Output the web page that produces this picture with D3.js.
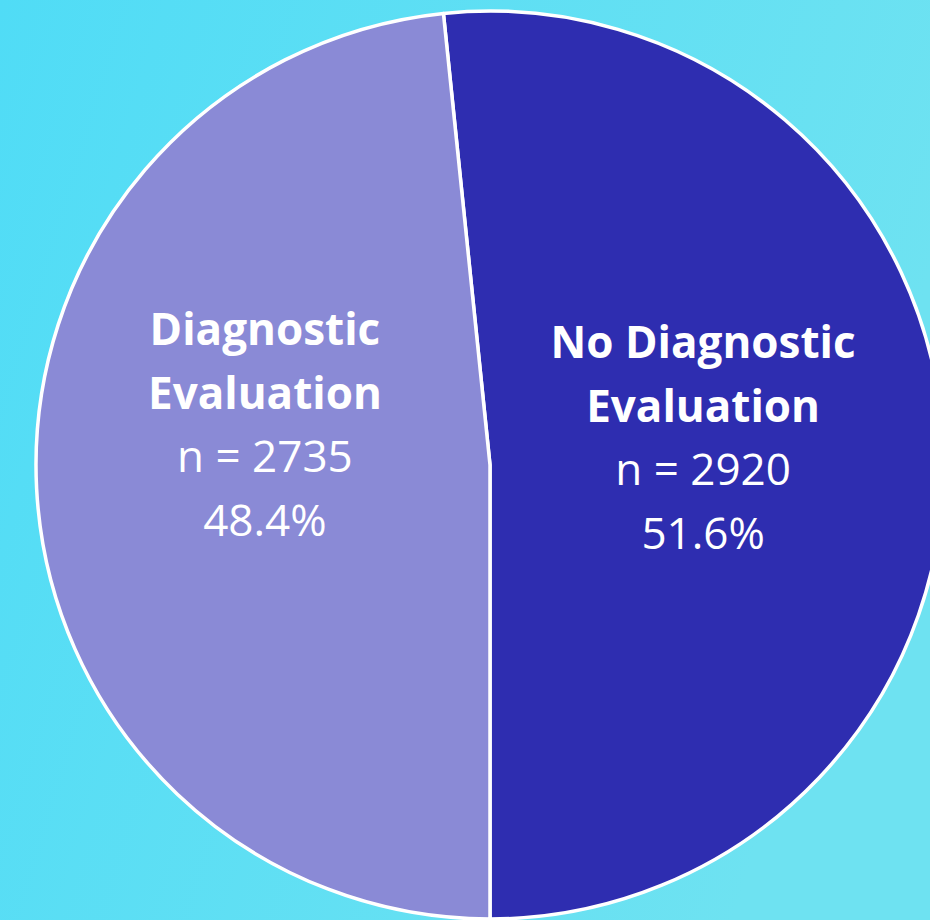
<!DOCTYPE html>
<html>
<head>
<meta charset="utf-8">
<script src="https://cdn.jsdelivr.net/npm/d3@7"></script>
<style>
  html, body { margin: 0; padding: 0; overflow: hidden; }
  svg { display: block; }
</style>
</head>
<body>
<svg id="chart" width="930" height="920"></svg>
<script>
// data
const categories = ["No Diagnostic Evaluation", "Diagnostic Evaluation"];
const titleLines = [["No Diagnostic", "Evaluation"], ["Diagnostic", "Evaluation"]];
const counts = [2920, 2735];
const percents = ["51.6%", "48.4%"];
const colors = ["#2e2db0", "#8a8ad6"];

const svg = d3.select("#chart");
const width = 930, height = 920;

// background gradient
const defs = svg.append("defs");
const grad = defs.append("linearGradient")
    .attr("id", "bg")
    .attr("x1", "0%").attr("y1", "0%")
    .attr("x2", "100%").attr("y2", "30%");
grad.append("stop").attr("offset", "0%").attr("stop-color", "#50dcf6");
grad.append("stop").attr("offset", "100%").attr("stop-color", "#6ee2f1");

svg.append("rect")
    .attr("width", width).attr("height", height)
    .attr("fill", "url(#bg)");

const cx = 490, cy = 465, radius = 454;
const rows = categories.map((c, i) => ({key: c, value: counts[i], lines: titleLines[i], pct: percents[i], color: colors[i]}));

// first slice starts a bit left of 12 o'clock so the second one ends there
const total = d3.sum(counts);
const offset = -(counts[0] / total * 2 * Math.PI - Math.PI);
const pie = d3.pie()
    .sort(null)
    .value(d => d.value)
    .startAngle(offset)
    .endAngle(offset + 2 * Math.PI);

const arc = d3.arc().innerRadius(0).outerRadius(radius);
const labelArc = d3.arc().innerRadius(radius * 0.47).outerRadius(radius * 0.47);

const g = svg.append("g").attr("transform", `translate(${cx},${cy})`);

const slices = g.selectAll("g.slice")
    .data(pie(rows))
    .enter()
    .append("g")
    .classed("slice", true);

slices.append("path")
    .attr("d", arc)
    .attr("fill", d => d.data.color)
    .attr("stroke", "#ffffff")
    .attr("stroke-width", 3.5)
    .attr("stroke-linejoin", "round");

const fontSize = 44;
const lineH = 63.5;

slices.each(function(d) {
  const [cxL] = labelArc.centroid(d);
  // left label is pushed a bit further out and higher than the right one
  const x = d.index === 0 ? cxL : cxL - 12;
  const top = d.index === 0 ? -107 : -120;
  const lines = [
    {t: d.data.lines[0], bold: true},
    {t: d.data.lines[1], bold: true},
    {t: "n = " + d.data.value, bold: false},
    {t: d.data.pct, bold: false}
  ];
  const text = d3.select(this).append("text")
      .attr("text-anchor", "middle")
      .attr("fill", "#ffffff")
      .style("font-family", "'Open Sans', Lato, sans-serif")
      .style("font-variant-ligatures", "none")
      .style("font-size", fontSize + "px");
  lines.forEach((l, i) => {
    text.append("tspan")
        .attr("x", x)
        .attr("y", top + i * lineH)
        .style("font-weight", l.bold ? 700 : 400)
        .text(l.t);
  });
});
</script>
</body>
</html>
